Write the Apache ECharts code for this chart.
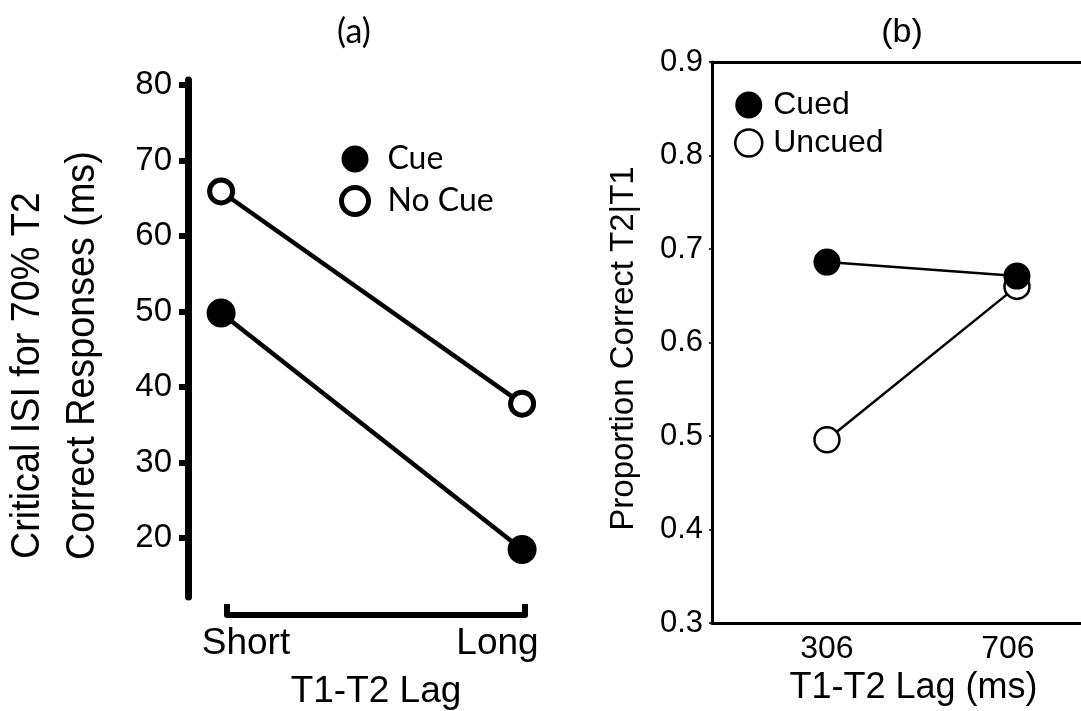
<!DOCTYPE html>
<html>
<head>
<meta charset="utf-8">
<script src="https://cdn.jsdelivr.net/npm/echarts@6/dist/echarts.min.js"></script>
<style>
  html, body { margin: 0; padding: 0; background: #fff; }
  #chart { width: 1081px; height: 711px; }
</style>
</head>
<body>
<div id="chart"></div>
<script>
// ---- Panel (a) data ----
const lagCategoriesA = ['Short', 'Long'];
const cueA = [49.8, 18.5];
const noCueA = [65.9, 37.8];
const yTicksA = [20, 30, 40, 50, 60, 70, 80];

// ---- Panel (b) data ----
const lagValuesB = [306, 706];
const cuedB = [0.686, 0.671];
const uncuedB = [0.496, 0.660];

const AR = 'Liberation Sans';
const CAL = 'Lato';

const toPairsA = arr => arr.map((v, i) => [i, v]);
const toPairsB = arr => arr.map((v, i) => [lagValuesB[i], v]);

const chart = echarts.init(document.getElementById('chart'), null, { renderer: 'canvas' });

const option = {
  backgroundColor: '#fff',
  animation: false,
  title: [
    { text: '(a)', left: 349, top: 10, textAlign: 'center',
      textStyle: { fontFamily: CAL, fontSize: 34, fontWeight: 'normal', color: '#000' } },
    { text: '(b)', left: 897, top: 11, textAlign: 'center',
      textStyle: { fontFamily: AR, fontSize: 34, fontWeight: 'normal', color: '#000' } }
  ],
  graphic: [
    { type: 'text', x: 28, y: 559, rotation: Math.PI / 2, scaleX: 0.92,
      style: { text: 'Critical ISI for 70% T2', font: '41px "Liberation Sans"', align: 'left', verticalAlign: 'middle', fill: '#000' } },
    { type: 'text', x: 83, y: 560, rotation: Math.PI / 2, scaleX: 0.92,
      style: { text: 'Correct Responses (ms)', font: '41px "Liberation Sans"', align: 'left', verticalAlign: 'middle', fill: '#000' } }
  ],
  legend: [
    {
      orient: 'vertical', left: 339, top: 143, padding: 0,
      itemWidth: 27, itemHeight: 27, itemGap: 10, icon: 'circle',
      textStyle: { fontFamily: CAL, fontSize: 32, color: '#000', padding: [0, 0, 0, 14] },
      data: [
        { name: 'Cue', itemStyle: { color: '#000', borderColor: '#000', borderWidth: 0 } },
        { name: 'No Cue', itemStyle: { color: '#fff', borderColor: '#000', borderWidth: 5 } }
      ]
    },
    {
      orient: 'vertical', left: 734, top: 89, padding: 0,
      itemWidth: 27, itemHeight: 27, itemGap: 6, icon: 'circle',
      textStyle: { fontFamily: AR, fontSize: 32, color: '#000', padding: [0, 0, 0, 6] },
      data: [
        { name: 'Cued', itemStyle: { color: '#000', borderColor: '#000', borderWidth: 0 } },
        { name: 'Uncued', itemStyle: { color: '#fff', borderColor: '#000', borderWidth: 2.5 } }
      ]
    }
  ],
  grid: [
    { left: 188, top: 80, width: 400, height: 517 },      // panel a data
    { left: 227, top: 560, width: 298, height: 56 },      // panel a bracket axis
    { left: 712, top: 62, right: 0, height: 562 }         // panel b (right edge cropped off)
  ],
  xAxis: [
    { gridIndex: 0, type: 'value', min: -0.11, max: 1.219, show: false, splitLine: { show: false } },
    {
      gridIndex: 1, type: 'value', min: 0, max: 1, interval: 1,
      axisLine: { show: true, onZero: false, lineStyle: { color: '#000', width: 6 } },
      axisTick: { show: true, inside: true, length: 11, lineStyle: { color: '#000', width: 6 } },
      axisLabel: {
        margin: 10,
        formatter: v => (v === 0 ? '{s|' + lagCategoriesA[0] + '}' : '{l|' + lagCategoriesA[1] + '}'),
        rich: {
          s: { fontFamily: AR, fontSize: 37, color: '#000', padding: [0, 0, 0, 38] },
          l: { fontFamily: AR, fontSize: 37, color: '#000', padding: [0, 55, 0, 0] }
        }
      },
      splitLine: { show: false },
      name: 'T1-T2 Lag', nameLocation: 'middle', nameGap: 58,
      nameTextStyle: { fontFamily: AR, fontSize: 37, color: '#000' }
    },
    {
      gridIndex: 2, type: 'value', min: 64, max: 840.8,
      axisLine: { show: true, onZero: false, lineStyle: { color: '#000', width: 3 } },
      axisTick: { show: false },
      axisLabel: {
        customValues: lagValuesB, margin: 10,
        formatter: v => (v === lagValuesB[1] ? '{r|' + v + '}' : '{n|' + v + '}'),
        rich: {
          n: { fontFamily: AR, fontSize: 32, color: '#000' },
          r: { fontFamily: AR, fontSize: 32, color: '#000', padding: [0, 18, 0, 0] }
        }
      },
      splitLine: { show: false },
      name: 'T1-T2 Lag (ms)', nameLocation: 'middle', nameGap: 47,
      nameTextStyle: { fontFamily: AR, fontSize: 36, color: '#000', padding: [0, 0, 0, 34] }
    },
    {
      gridIndex: 2, type: 'value', position: 'top', min: 64, max: 840.8,
      axisLine: { show: true, onZero: false, lineStyle: { color: '#000', width: 3 } },
      axisTick: { show: false }, axisLabel: { show: false }, splitLine: { show: false }
    }
  ],
  yAxis: [
    {
      gridIndex: 0, type: 'value', min: 12.2, max: 80.66,
      axisLine: { show: true, onZero: false, lineStyle: { color: '#000', width: 7 } },
      axisTick: { show: true, customValues: yTicksA, length: 9, lineStyle: { color: '#000', width: 6 } },
      axisLabel: { customValues: yTicksA, fontFamily: AR, fontSize: 33, color: '#000', margin: 16 },
      splitLine: { show: false }
    },
    { gridIndex: 1, type: 'value', show: false, splitLine: { show: false } },
    {
      gridIndex: 2, type: 'value', min: 0.3, max: 0.9, interval: 0.1,
      axisLine: { show: true, onZero: false, lineStyle: { color: '#000', width: 3 } },
      axisTick: { show: true, length: 3, lineStyle: { color: '#000', width: 1.5 } },
      axisLabel: { fontFamily: AR, fontSize: 31, color: '#000', margin: 9, formatter: v => v.toFixed(1) },
      splitLine: { show: false },
      name: 'Proportion Correct T2|T1', nameLocation: 'middle', nameGap: 72,
      nameTextStyle: { fontFamily: AR, fontSize: 33, color: '#000', padding: [0, 12, 0, 0] }
    }
  ],
  series: [
    {
      name: 'Cue', type: 'line', xAxisIndex: 0, yAxisIndex: 0,
      data: toPairsA(cueA), symbol: 'circle', symbolSize: 29,
      lineStyle: { color: '#000', width: 4.5 },
      itemStyle: { color: '#000', borderColor: '#000', borderWidth: 0 }
    },
    {
      name: 'No Cue', type: 'line', xAxisIndex: 0, yAxisIndex: 0,
      data: toPairsA(noCueA), symbol: 'circle', symbolSize: 23,
      lineStyle: { color: '#000', width: 4.5 },
      itemStyle: { color: '#fff', borderColor: '#000', borderWidth: 5 }
    },
    {
      name: 'Uncued', type: 'line', xAxisIndex: 2, yAxisIndex: 2,
      data: toPairsB(uncuedB), symbol: 'circle', symbolSize: 25,
      lineStyle: { color: '#000', width: 2.5 },
      itemStyle: { color: '#fff', borderColor: '#000', borderWidth: 2.5 }
    },
    {
      name: 'Cued', type: 'line', xAxisIndex: 2, yAxisIndex: 2,
      data: toPairsB(cuedB), symbol: 'circle', symbolSize: 27,
      lineStyle: { color: '#000', width: 2.5 },
      itemStyle: { color: '#000', borderColor: '#000', borderWidth: 0 }
    }
  ]
};

chart.setOption(option);
</script>
</body>
</html>
